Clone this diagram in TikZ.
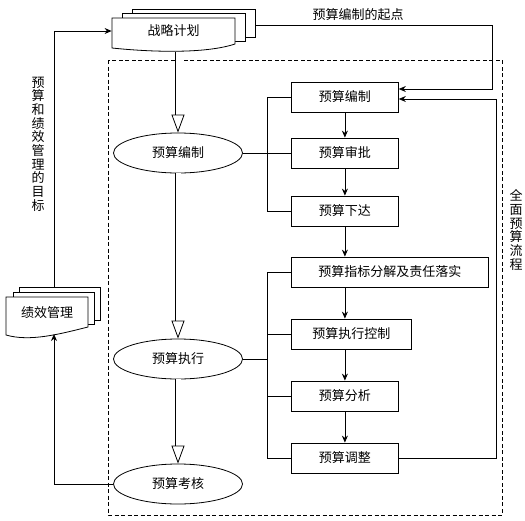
\documentclass[tikz,border=0pt]{standalone}
\usepackage{fontspec}
\setmainfont{Noto Sans CJK SC}
\usetikzlibrary{arrows.meta,shapes.geometric}

\begin{document}
\begin{tikzpicture}[x=1pt, y=-1pt, line width=0.8pt,
  font=\fontsize{13}{13.7}\selectfont,
  box/.style={draw, minimum width=107, minimum height=30, inner sep=0, anchor=west},
  oval/.style={draw, ellipse, minimum width=129, minimum height=40, inner sep=0},
  sheet/.style={draw, fill=white},
  arr/.style={-{Stealth[length=7pt, width=6pt]}},
  dbl/.style={double=white, double distance=5pt, -{Triangle[open, length=18pt, width=13pt]}},
  dashbox/.style={dash pattern=on 4pt off 2.5pt}]
  \useasboundingbox (0,0) rectangle (525,520);
  % documents
  \draw [sheet] (132,9) rectangle (255,37);
  \draw [sheet] (122,13) rectangle (245,41);
  \draw [sheet] (112,18) -- (235,18) -- (235,44) .. controls (205,54) and (150,52) .. (112,48) -- cycle;
  \draw [sheet] (19,287) rectangle (100,320);
  \draw [sheet] (13,292) rectangle (94,324);
  \draw [sheet] (6,297) -- (88,297) -- (88,327) .. controls (60,334) and (30,342) .. (6,335) -- cycle;
  \node [minimum width=123] (zl) at (173.5,31) {战略计划};
  \node (jx) at (47,313) {绩效管理};
  \coordinate (zlb) at (178,51.5);
  \coordinate (zlr) at (255,25);
  \coordinate (jxt) at (54,287);
  \coordinate (jxb) at (54,334);
  % whole process
  \draw [dashbox] (108,60) rectangle (502,515);
  \node [oval] (e1) at (178,153) {预算编制};
  \node [oval] (e2) at (178,359) {预算执行};
  \node [oval] (e3) at (178,484) {预算考核};
  \node [box] (bz) at (291,97) {预算编制};
  \node [box] (sp) at (291,153) {预算审批};
  \node [box] (xd) at (291,211) {预算下达};
  \node [box, minimum width=197] (zb) at (291,272) {预算指标分解及责任落实};
  \node [box, minimum width=120] (kz) at (291,334) {预算执行控制};
  \node [box] (fx) at (291,396) {预算分析};
  \node [box] (tz) at (291,458) {预算调整};
  % labels
  \node (qd) at (358,15) {预算编制的起点};
  \node [align=center] (mb) at (38,144) {预\\算\\和\\绩\\效\\管\\理\\的\\目\\标};
  \node [align=center] (lc) at (516,230) {全\\面\\预\\算\\流\\程};
  % connectors
  \draw [arr] (jxt) |- (zl.west);
  \draw [arr] (e3.west) -| (jxb);
  \draw [arr] (zlr) -- ++(237,0) |- ([yshift=8]bz.east);
  \draw [arr] (tz.east) -- ++(98,0) |- ([yshift=-2]bz.east);
  \draw [dbl] (zlb) -- (e1);
  \draw [dbl] (e1) -- (e2);
  \draw [dbl] (e2) -- (e3);
  \draw [arr] (bz) -- (sp);
  \draw [arr] (sp) -- (xd);
  \draw [arr] (xd.south) -- (xd.south |- zb.north);
  \draw [arr] (xd.south |- zb.south) -- (xd.south |- kz.north);
  \draw [arr] (xd.south |- kz.south) -- (fx);
  \draw [arr] (fx) -- (tz);
  \draw (bz.west) -- ++(-24,0) |- (xd.west);
  \draw (e1.east) -- (sp.west);
  \draw (zb.west) -- ++(-24,0) |- (tz.west);
  \draw (kz.west) -- ++(-24,0);
  \draw (fx.west) -- ++(-24,0);
  \draw (e2.east) -- ++(25,0);
\end{tikzpicture}
\end{document}
